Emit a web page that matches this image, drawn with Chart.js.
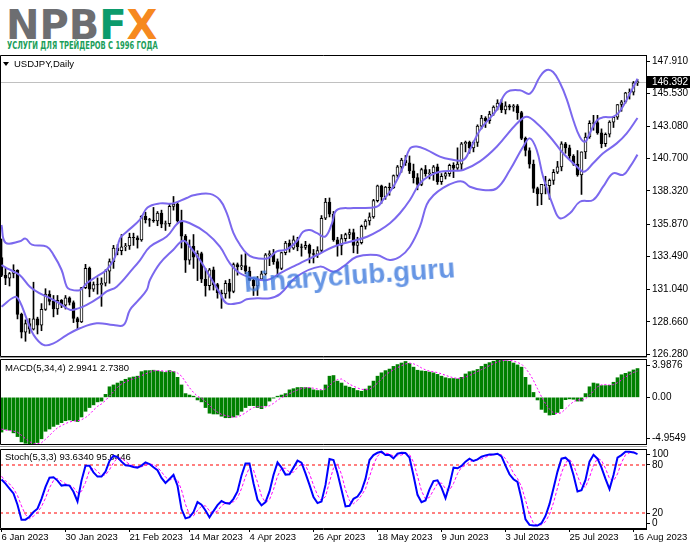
<!DOCTYPE html>
<html>
<head>
<meta charset="utf-8">
<script src="https://cdn.jsdelivr.net/npm/chart.js@4.4.0/dist/chart.umd.min.js"></script>
<style>
  html, body { margin: 0; padding: 0; background: #fff; }
  #page { position: relative; width: 691px; height: 549px; overflow: hidden; background: #fff; }
  .pane { position: absolute; left: 0; width: 691px; }
  .sep { position: absolute; left: 0; width: 647px; height: 1px; background: #9a9a9a; }
  #logo { position: absolute; left: 6px; top: 5px; font: bold 40px/40px "DejaVu Sans", sans-serif; white-space: nowrap; }
  #tagline { position: absolute; left: 7px; top: 40px; font: bold 11px/11px "DejaVu Sans", sans-serif; color: #1b9e5a; white-space: nowrap; transform-origin: left top; }
  #wm { position: absolute; left: 245px; top: 269px; font: bold 28px/28px "Liberation Sans", sans-serif; color: rgba(60, 120, 220, 0.78); white-space: nowrap; transform: rotate(-4deg); transform-origin: left bottom; pointer-events: none; }
</style>
</head>
<body>
<div id="page">
  <div id="logo"><span style="color:#6d6e71">NPB</span><span style="color:#0c9b6c">F</span><span style="color:#f6891f">X</span></div>
  <div id="tagline">УСЛУГИ ДЛЯ ТРЕЙДЕРОВ С 1996 ГОДА</div>
  <div class="pane" style="top:55px;height:302px"><canvas id="mainChart"></canvas></div>
  <div class="sep" style="top:357px"></div>
  <div class="pane" style="top:359px;height:86px"><canvas id="macdChart"></canvas></div>
  <div class="sep" style="top:446px"></div>
  <div class="pane" style="top:449px;height:100px"><canvas id="stochChart"></canvas></div>
  <div id="wm">binaryclub.guru</div>
</div>
<script>
// USDJPY daily, 6 Jan 2023 (bar 0) .. 17 Aug 2023 (bar 159)
const symbolTitle = "USDJPY,Daily";

const dateTickIdx = [0, 16, 32, 47, 62, 78, 94, 110, 126, 142, 158];
const dateTickText = ["6 Jan 2023", "30 Jan 2023", "21 Feb 2023", "14 Mar 2023", "4 Apr 2023",
  "26 Apr 2023", "18 May 2023", "9 Jun 2023", "3 Jul 2023", "25 Jul 2023", "16 Aug 2023"];
const priceTicks = [147.910, 145.530, 143.080, 140.700, 138.320, 135.870, 133.490, 131.040, 128.660, 126.280];

const opens = [133.40,132.08,131.88,132.22,132.46,129.20,127.90,128.52,128.12,128.88,
  128.40,129.58,130.70,130.16,129.60,130.24,129.88,130.42,130.08,128.90,
  128.64,131.18,132.60,131.06,131.40,131.38,131.50,132.40,133.10,134.10,
  133.90,134.20,134.26,134.90,134.86,134.70,136.44,136.20,136.16,136.10,
  136.68,135.86,135.90,137.18,137.34,136.12,134.98,133.20,134.22,133.42,
  133.70,131.80,131.32,132.50,131.40,130.80,130.72,131.50,130.90,132.88,
  132.70,132.80,132.40,131.72,131.30,131.80,132.20,133.60,133.70,133.10,
  132.60,133.76,134.46,134.10,134.70,134.20,134.14,134.30,133.70,133.64,
  133.92,136.30,137.50,136.60,134.70,134.30,134.80,135.10,135.24,134.30,
  134.50,135.70,136.10,136.40,137.60,138.70,137.90,138.60,138.56,139.46,
  140.10,140.60,140.40,139.80,139.30,138.80,139.90,139.60,139.66,140.10,
  139.00,139.40,139.60,140.20,140.00,140.30,141.80,141.90,141.50,141.90,
  143.10,143.70,143.50,144.00,144.50,144.80,144.30,144.60,144.50,144.60,
  144.10,142.20,141.30,140.30,138.50,138.10,138.80,138.70,139.10,139.70,
  140.10,141.80,141.50,140.90,140.30,139.50,141.20,142.30,143.30,143.36,
  142.60,141.80,142.50,143.40,143.76,144.70,144.90,145.56,145.60,146.30];
const highs = [134.77,132.67,132.30,132.87,132.50,129.30,128.80,128.90,131.58,129.00,
  130.00,131.10,130.95,130.60,130.60,130.30,130.60,130.50,130.20,129.00,
  131.20,132.90,132.70,131.60,131.90,131.90,132.50,133.30,134.30,134.35,
  135.10,134.45,135.20,135.20,135.00,136.50,136.75,136.30,137.10,136.80,
  136.90,136.10,137.40,137.91,137.50,136.90,135.10,134.70,135.10,133.90,
  133.80,132.60,132.60,132.70,131.50,131.00,131.70,131.80,133.00,133.00,
  133.60,133.70,132.70,131.90,132.00,132.40,133.70,133.90,134.00,133.30,
  133.80,134.60,134.70,135.00,134.90,134.40,134.60,134.40,134.00,134.20,
  136.50,137.77,137.80,136.80,134.90,135.10,135.20,135.50,135.50,134.90,
  135.80,136.20,136.70,137.70,138.75,138.75,138.65,138.90,139.50,140.20,
  140.73,140.93,140.90,140.30,139.60,140.00,140.20,139.90,140.20,140.30,
  139.60,139.70,140.30,140.40,141.50,141.90,142.00,142.00,142.00,143.20,
  143.90,143.80,144.20,144.60,145.05,145.07,144.90,144.70,144.70,144.70,
  144.20,142.30,141.50,140.60,138.60,138.80,139.40,139.20,139.90,140.50,
  141.95,141.90,141.70,141.00,141.30,141.20,142.60,143.50,143.90,143.90,
  142.90,142.60,143.50,143.80,144.70,145.00,145.60,145.85,146.40,146.56];
const lows = [131.99,131.40,131.30,131.90,128.87,127.46,127.22,127.80,128.05,127.76,
  128.00,129.50,129.90,129.02,129.20,129.70,129.60,129.90,128.60,128.08,
  128.60,131.10,130.50,130.90,130.70,129.80,131.30,131.50,132.60,133.60,
  133.60,133.90,134.00,134.30,134.10,134.60,135.95,135.70,136.00,135.75,
  135.60,135.40,135.70,136.90,136.00,134.10,132.30,132.90,132.60,131.70,
  131.55,130.55,131.00,131.00,130.40,129.65,130.40,130.40,130.80,132.10,
  132.50,132.20,131.70,130.60,130.60,131.70,132.10,132.80,132.90,132.00,
  132.50,133.60,133.80,134.00,133.90,133.50,134.00,133.00,133.00,133.40,
  133.80,136.20,136.40,134.60,133.50,133.60,134.60,134.80,133.75,133.70,
  134.40,135.50,135.80,136.30,137.50,137.40,137.70,138.00,138.50,139.30,
  139.70,140.20,139.60,138.90,138.40,138.70,139.40,139.20,139.10,138.80,
  138.80,139.20,139.40,139.30,139.90,139.90,141.20,141.10,141.20,141.60,
  142.90,143.00,143.30,143.90,144.30,144.10,144.00,144.30,144.20,143.60,
  142.10,140.90,140.00,138.20,137.24,137.30,138.10,137.70,138.80,139.60,
  139.80,141.10,140.70,140.20,139.40,138.06,140.70,142.20,142.80,142.50,
  141.50,141.60,142.30,143.00,143.60,144.20,144.80,145.10,145.40,146.10];
const closes = [132.08,131.88,132.22,132.46,129.20,127.90,128.52,128.12,128.88,128.40,
  129.58,130.70,130.16,129.60,130.24,129.88,130.42,130.08,128.90,128.64,
  131.18,132.60,131.06,131.40,131.38,131.50,132.40,133.10,134.10,133.90,
  134.20,134.26,134.90,134.86,134.70,136.44,136.20,136.16,136.10,136.68,
  135.86,135.90,137.18,137.34,136.12,134.98,133.20,134.22,133.42,133.70,
  131.80,131.32,132.50,131.40,130.80,130.72,131.50,130.90,132.88,132.70,
  132.80,132.40,131.72,131.30,131.80,132.20,133.60,133.70,133.10,132.60,
  133.76,134.46,134.10,134.70,134.20,134.14,134.30,133.70,133.64,133.92,
  136.30,137.50,136.60,134.70,134.30,134.80,135.10,135.24,134.30,134.50,
  135.70,136.10,136.40,137.60,138.70,137.90,138.60,138.56,139.46,140.10,
  140.60,140.40,139.80,139.30,138.80,139.90,139.60,139.66,140.10,139.00,
  139.40,139.60,140.20,140.00,140.30,141.80,141.90,141.50,141.90,143.10,
  143.70,143.50,144.00,144.50,144.80,144.30,144.60,144.50,144.60,144.10,
  142.20,141.30,140.30,138.50,138.10,138.80,138.70,139.10,139.70,140.10,
  141.80,141.50,140.90,140.30,139.50,141.20,142.30,143.30,143.36,142.60,
  141.80,142.50,143.40,143.76,144.70,144.90,145.56,145.60,146.30,146.392];

// Bollinger bands: [bar index, price]
const bbUpper = [[0,135.8],[1,134.5],[4.6,134.6],[6,134.8],[7.6,134.35],[11.3,134.2],[13,133.6],[15,132.5],
  [16.3,131.25],[17.1,131.05],[19.6,131.0],[21.3,131.5],[23.8,132.0],[26.3,132.5],[28.4,133.45],[29.6,134.8],
  [31.3,135.3],[34.6,136.2],[36.5,137.1],[39.6,137.4],[42.9,137.4],[46.3,137.8],[48,138.0],[52.1,138.1],
  [54.6,137.65],[56.3,136.7],[58,135.2],[59.6,134.35],[61.3,133.7],[63,133.4],[66.6,133.35],[68.8,133.85],
  [71.3,134.0],[73.8,134.6],[75.4,135.3],[77.1,135.43],[78.9,135.2],[80.9,134.95],[82.6,135.9],[83.8,136.9],
  [88,137.05],[93.8,137.15],[95.4,137.65],[98,138.65],[100.4,140.1],[102.1,141.45],[103.8,141.6],[106.3,141.35],
  [109.6,140.85],[112.1,140.65],[115.4,140.6],[117.1,141.35],[119.6,142.8],[123.8,144.3],[126.3,145.6],
  [129.6,145.75],[132.1,145.5],[134.6,146.75],[136.3,147.25],[137.9,147.1],[139.6,146.3],[141.3,145.1],
  [143,143.5],[144.6,142.3],[145.9,141.95],[147.1,142.6],[148.9,143.55],[150.4,143.75],[153,143.8],
  [154.6,144.2],[157.1,145.5],[159,146.6]];
const bbMiddle = [[0,132.85],[2.1,132.5],[4.6,132.1],[7.1,131.25],[9.6,130.75],[12.1,130.4],[14.6,130.0],
  [17.1,129.55],[19.2,129.65],[21.3,129.9],[24.6,130.5],[26.3,130.9],[28.8,131.25],[32.9,132.6],[34.6,133.2],
  [37.1,134.2],[41.3,134.95],[44.6,136.05],[47.1,135.93],[51.3,135.2],[54.6,134.2],[57.1,132.97],[59.6,132.24],
  [63,131.87],[66.4,131.74],[69.6,132.24],[72.9,132.73],[74.6,132.97],[77.1,133.34],[78.9,133.59],[83,134.2],
  [87.1,134.57],[91.4,134.94],[94.6,135.43],[97.1,135.93],[99.6,136.67],[102.1,137.65],[104.6,138.88],
  [107.1,139.45],[109.6,139.74],[112.9,139.81],[115.4,139.86],[119.6,140.5],[123.8,141.58],[128.9,143.31],
  [131.3,143.8],[133.8,143.31],[137.1,142.32],[140.4,141.1],[143.9,140.11],[145.6,139.74],[147.9,140.36],
  [150.4,141.1],[153.8,141.83],[156.3,142.57],[159,143.7]];
const bbLower = [[0,129.77],[3.4,130.5],[4.6,130.14],[6.4,128.8],[8,127.7],[10.5,126.95],[13,127.07],
  [16.3,127.68],[19.6,128.18],[23.8,128.55],[28,128.42],[30.5,128.42],[32.1,129.53],[33.9,130.14],
  [36.3,131.0],[37.1,131.74],[39.6,132.97],[42.9,133.96],[45.4,134.64],[47.1,134.2],[49.6,133.22],
  [52.1,132.0],[54.6,130.76],[56.3,130.02],[59.6,130.07],[61.3,130.32],[63.9,130.39],[67.1,130.4],
  [69.6,130.7],[73.8,131.99],[79.6,132.73],[83,132.36],[85.4,132.73],[88.8,133.46],[93.8,133.59],
  [97.1,133.22],[99.6,133.46],[102.1,134.2],[104.6,135.68],[106.3,137.3],[108,138.0],[110.4,138.55],
  [113.3,138.95],[115.4,139.0],[117.1,138.63],[120.4,138.39],[123.8,138.51],[127.1,139.86],[130.4,141.58],
  [132.1,142.2],[133.8,141.34],[135.4,139.37],[138,137.15],[139.6,136.3],[142.1,136.67],[144.6,137.52],
  [147.9,137.65],[150.4,138.63],[152.9,139.62],[155.4,139.5],[157.1,140.1],[159,141.0]];

// MACD(5,34,4)
const macdMax = 3.9876, macdMin = -4.9549;
const macdHist = [-3.61,-3.33,-3.41,-3.69,-4.08,-4.63,-4.78,-4.9549,-4.9,-4.7,
  -4.31,-3.53,-3.29,-3.02,-2.82,-2.63,-2.43,-2.35,-2.43,-2.51,
  -2.04,-1.45,-1.06,-0.78,-0.47,-0.39,0.31,1.1,1.29,1.49,
  1.69,1.88,2.04,2.12,2.2,2.67,2.78,2.78,2.82,2.75,
  2.67,2.59,2.78,2.67,2.08,1.29,0.39,0.24,0.12,-0.27,
  -0.47,-1.06,-1.65,-1.73,-1.73,-1.96,-2.12,-2.12,-2.04,-1.84,
  -1.45,-1.06,-0.86,-0.86,-1.06,-1.18,-0.86,-0.39,-0.08,0.12,
  0.24,0.39,0.78,0.9,1.02,1.02,1.02,0.98,0.78,0.71,
  0.71,1.29,2.2,2.27,1.69,1.49,1.18,1.06,0.94,0.71,
  0.63,0.86,1.18,1.69,2.2,2.55,2.78,2.94,3.22,3.41,
  3.57,3.73,3.53,3.14,2.82,2.75,2.71,2.63,2.55,2.39,
  2.2,2.04,1.96,1.96,1.92,2.08,2.43,2.67,2.75,2.9,
  3.22,3.45,3.61,3.76,3.88,3.9876,3.8,3.76,3.57,3.37,
  3.14,2.08,1.29,0.51,-0.27,-1.25,-1.57,-1.84,-1.8,-1.57,
  -1.18,-0.24,-0.16,-0.2,-0.39,-0.39,0.39,1.1,1.49,1.41,
  1.22,1.22,1.25,1.57,2.04,2.35,2.5,2.65,2.85,2.9941];
const macdSignal = [-3.3,-3.4,-3.45,-3.51,-3.63,-3.95,-4.3,-4.61,-4.82,-4.83,
  -4.72,-4.36,-3.96,-3.54,-3.17,-2.94,-2.73,-2.56,-2.46,-2.43,
  -2.33,-2.11,-1.77,-1.33,-0.94,-0.68,-0.33,0.14,0.58,1.05,
  1.39,1.59,1.78,1.93,2.06,2.26,2.44,2.61,2.76,2.78,
  2.76,2.71,2.7,2.68,2.53,2.21,1.61,1.0,0.51,0.12,
  -0.1,-0.42,-0.86,-1.23,-1.54,-1.77,-1.89,-1.98,-2.06,-2.03,
  -1.86,-1.6,-1.3,-1.06,-0.96,-0.99,-0.99,-0.87,-0.63,-0.3,
  -0.03,0.17,0.38,0.58,0.77,0.91,0.99,1.01,0.95,0.87,
  0.8,0.87,1.23,1.62,1.86,1.91,1.66,1.36,1.17,0.97,
  0.84,0.79,0.85,1.09,1.48,1.91,2.31,2.62,2.87,3.09,
  3.29,3.48,3.56,3.49,3.31,3.06,2.86,2.73,2.66,2.57,
  2.44,2.3,2.15,2.04,1.97,1.98,2.1,2.28,2.48,2.69,
  2.89,3.08,3.3,3.51,3.68,3.81,3.86,3.86,3.78,3.63,
  3.46,3.04,2.47,1.76,0.9,0.07,-0.65,-1.23,-1.62,-1.7,
  -1.6,-1.2,-0.79,-0.45,-0.25,-0.29,-0.15,0.23,0.65,1.1,
  1.31,1.34,1.28,1.32,1.52,1.8,2.11,2.39,2.59,2.738];

// Stochastic(5,3,3)
const stochLevels = [80, 20];
const stochAxisText = ["100", "80", "20", "0"];
const stochMain = [61.8,56.8,50.6,44.4,30.3,11.7,11.7,15.4,21.2,25.4,
  37.7,52.6,64.2,64.7,60.5,54.3,55.1,54.3,46.5,34.4,
  60.5,79.2,79.2,70.8,65.5,65.5,71.7,85,91.6,90,
  84.2,79.6,79,77.5,76.7,79.2,83.3,81.2,77.1,73.4,
  63.8,57.6,62.6,67.6,54.3,24.9,13.3,14.9,21.2,33.6,
  30.3,23.2,14.5,22.4,29.9,34.9,32.4,31.6,37.7,47,
  66.8,82,82,57.2,36.5,29.5,33.6,47,67.6,83.3,
  76.7,68,68.4,76.7,85.4,82.9,69.6,55.1,39.8,32.4,
  34.4,55.1,87.4,86.2,69.6,49,28.2,29,37.7,40.6,
  47.7,62.6,86.2,92.4,95.3,96.6,92.4,92.4,88.2,94.1,
  95.3,94.9,89.1,66.8,42.7,33.6,35.7,49.6,59.9,60.8,
  51.7,38.6,55.1,76.7,75.9,78.8,84.2,87.9,85,87,
  90.3,92,93.2,93.2,94.1,90.7,79.2,68.4,62.2,58.8,
  37.7,12,5.1,4.3,4.3,7.2,16.3,31.1,51,71.7,
  87.9,89.1,84.2,67.6,47,48.6,61.4,84.2,92.8,87.9,
  76.7,62.6,49.9,67.6,89.1,92.4,96.6,96.6,95.7,93.634];
const stochSignal = [66,60,56.4,50.6,41.8,28.8,17.9,12.9,16.1,20.7,
  28.1,38.6,51.5,60.5,63.1,59.8,56.6,54.6,52,45.1,
  47.1,58,73,76.4,71.8,67.3,67.6,74.1,82.8,88.9,
  88.6,84.6,80.9,78.7,77.7,77.8,79.7,81.2,80.5,77.2,
  71.4,64.9,61.3,62.6,61.5,48.9,30.8,17.7,16.5,23.2,
  28.4,29,22.7,20,22.3,29.1,32.4,33,33.9,38.8,
  50.5,65.3,76.9,73.7,58.6,41.1,33.2,36.7,49.4,66,
  75.9,76,71,71,76.8,81.7,79.3,69.2,54.8,42.4,
  35.5,40.6,59,76.2,81.1,68.3,48.9,35.4,31.6,35.8,
  42,50.3,65.5,80.4,91.3,94.8,94.8,93.8,91,91.6,
  92.5,94.8,93.1,83.6,66.2,47.7,37.3,39.6,48.4,56.8,
  57.5,50.4,48.5,56.8,69.2,77.1,79.6,83.6,85.7,86.6,
  87.4,89.8,91.8,92.8,93.5,92.7,88,79.4,69.9,63.1,
  52.9,36.2,18.3,7.1,4.6,5.3,9.3,18.2,32.8,51.3,
  70.2,82.9,87.1,80.3,66.3,54.4,52.3,64.7,79.5,88.3,
  85.8,75.7,63.1,60,68.9,83,92.7,95.2,96.3,95.0446];

const FONT = '"Liberation Sans", Arial, sans-serif';
const FONT_SIZE = 9.5;
const AXIS_FONT = { family: FONT, size: 10 };
const X_MIN = -0.375, X_MAX = 161.125;
const AXIS_W = 45;
const MACD_H = 86, STOCH_H = 80;
const bandColor = "#7b68ee";
const last = closes.length - 1;

Chart.defaults.font.family = FONT;
Chart.defaults.font.size = FONT_SIZE;
Chart.defaults.color = "#000";

// frame + title text of each sub window
const panePlugin = {
  id: "pane",
  beforeDatasetsDraw(chart, args, opts) {
    const { ctx } = chart;
    ctx.save();
    ctx.font = FONT_SIZE + "px " + FONT;
    ctx.fillStyle = "#000";
    ctx.textBaseline = "middle";
    ctx.textAlign = "left";
    ctx.fillText(opts.title, opts.tx, opts.ty);
    if (opts.arrow) {
      ctx.beginPath();
      ctx.moveTo(3, opts.ty - 2);
      ctx.lineTo(9, opts.ty - 2);
      ctx.lineTo(6, opts.ty + 2);
      ctx.closePath();
      ctx.fill();
    }
    ctx.restore();
  },
  afterDraw(chart) {
    const { ctx, chartArea: a } = chart;
    ctx.save();
    ctx.strokeStyle = "#000";
    ctx.lineWidth = 1;
    ctx.beginPath();
    ctx.moveTo(a.right, a.top + 0.5);
    ctx.lineTo(a.left + 0.5, a.top + 0.5);
    ctx.lineTo(a.left + 0.5, a.bottom - 0.5);
    ctx.lineTo(a.right, a.bottom - 0.5);
    ctx.stroke();
    ctx.restore();
  },
};

const priceLinePlugin = {
  id: "priceLine",
  beforeDatasetsDraw(chart) {
    const { ctx, chartArea: a, scales: { y } } = chart;
    const py = Math.round(y.getPixelForValue(closes[last])) + 0.5;
    ctx.save();
    ctx.strokeStyle = "#c0c0c0";
    ctx.lineWidth = 1;
    ctx.beginPath();
    ctx.moveTo(a.left, py);
    ctx.lineTo(a.right, py);
    ctx.stroke();
    ctx.restore();
  },
  afterDraw(chart) {
    const { ctx, chartArea: a, scales: { y } } = chart;
    const py = Math.round(y.getPixelForValue(closes[last]));
    ctx.save();
    ctx.fillStyle = "#000";
    ctx.fillRect(a.right + 1, py - 6, 43, 12);
    ctx.fillStyle = "#fff";
    ctx.font = AXIS_FONT.size + "px " + FONT;
    ctx.textBaseline = "middle";
    ctx.fillText(closes[last].toFixed(3), a.right + 6, py + 0.5);
    ctx.restore();
  },
};

function xAxis(show) {
  const ax = {
    type: "linear", min: X_MIN, max: X_MAX, offset: false, display: show,
    grid: { display: show, drawOnChartArea: false, tickLength: 3, color: "#000", offset: false },
    border: { display: show, color: "#000" },
    afterBuildTicks: (s) => { s.ticks = dateTickIdx.map((v) => ({ value: v })); },
    ticks: {
      autoSkip: false, maxRotation: 0, minRotation: 0, align: "start", padding: 0,
      callback: (v, i) => dateTickText[i],
    },
  };
  if (show) ax.afterFit = (s) => { s.height = 20; s.paddingLeft = 0; s.paddingRight = 0; };
  return ax;
}

function yAxis(extra) {
  return Object.assign({
    position: "right",
    grid: { drawOnChartArea: false, tickLength: 4, color: "#000" },
    border: { color: "#000" },
    afterFit: (s) => { s.width = AXIS_W; s.paddingTop = 0; s.paddingBottom = 0; },
  }, extra);
}

const baseOptions = {
  responsive: true,
  maintainAspectRatio: false,
  animation: false,
  devicePixelRatio: 1,
  events: [],
  layout: { padding: 0 },
};

// ---------- price window ----------
new Chart(document.getElementById("mainChart"), {
  type: "bar",
  data: {
    datasets: [
      { type: "line", data: bbUpper.map(([i, v]) => ({ x: i, y: v })), borderColor: bandColor, borderWidth: 2, pointRadius: 0, tension: 0.4, order: 0 },
      { type: "line", data: bbMiddle.map(([i, v]) => ({ x: i, y: v })), borderColor: bandColor, borderWidth: 2, pointRadius: 0, tension: 0.4, order: 0 },
      { type: "line", data: bbLower.map(([i, v]) => ({ x: i, y: v })), borderColor: bandColor, borderWidth: 2, pointRadius: 0, tension: 0.4, order: 0 },
      {
        data: closes.map((c, i) => ({ x: i, y: [opens[i], c] })),
        backgroundColor: closes.map((c, i) => (c >= opens[i] ? "#ffffff" : "#000000")),
        borderColor: "#000", borderWidth: 1, borderSkipped: false, barThickness: 3, grouped: false, order: 1,
      },
      {
        data: closes.map((c, i) => ({ x: i, y: [lows[i], highs[i]] })),
        backgroundColor: "#000", borderWidth: 0, barThickness: 1, grouped: false, order: 2,
      },
    ],
  },
  plugins: [panePlugin, priceLinePlugin],
  options: Object.assign({}, baseOptions, {
    plugins: { legend: { display: false }, tooltip: { enabled: false },
      pane: { title: symbolTitle, tx: 14, ty: 9, arrow: true } },
    scales: {
      x: xAxis(false),
      y: yAxis({
        min: 126.059, max: 148.353,
        afterBuildTicks: (s) => { s.ticks = priceTicks.map((v) => ({ value: v })); },
        ticks: { autoSkip: false, padding: 2, font: AXIS_FONT, callback: (v) => v.toFixed(3) },
      }),
    },
  }),
});

// ---------- MACD window ----------
const macdInset = 6.5 * (macdMax - macdMin) / MACD_H;
new Chart(document.getElementById("macdChart"), {
  type: "bar",
  data: {
    datasets: [
      { type: "line", data: macdSignal.map((v, i) => ({ x: i, y: v })), borderColor: "#ff00ff", borderWidth: 1, borderDash: [2, 2], pointRadius: 0, tension: 0, order: 0 },
      { data: macdHist.map((v, i) => ({ x: i, y: v })), backgroundColor: "#008000", borderWidth: 0, barThickness: 3, grouped: false, order: 1 },
    ],
  },
  plugins: [panePlugin],
  options: Object.assign({}, baseOptions, {
    plugins: { legend: { display: false }, tooltip: { enabled: false },
      pane: { title: "MACD(5,34,4) " + macdHist[last].toFixed(4) + " " + macdSignal[last].toFixed(4), tx: 5, ty: 9 } },
    scales: {
      x: xAxis(false),
      y: yAxis({
        min: macdMin, max: macdMax,
        afterBuildTicks: (s) => { s.ticks = [macdMax - macdInset, 0, macdMin + macdInset].map((v) => ({ value: v })); },
        ticks: { autoSkip: false, padding: 2, font: AXIS_FONT, callback: (v, i) => [macdMax.toFixed(4), "0.00", macdMin.toFixed(4)][i] },
      }),
    },
  }),
});

// ---------- Stochastic window ----------
const stochInset = 5.5 * 100 / STOCH_H;
new Chart(document.getElementById("stochChart"), {
  type: "line",
  data: {
    datasets: [
      { data: stochMain.map((v, i) => ({ x: i, y: v })), borderColor: "#0000ff", borderWidth: 2, pointRadius: 0, tension: 0, order: 0 },
      { data: stochSignal.map((v, i) => ({ x: i, y: v })), borderColor: "#ff00ff", borderWidth: 1, borderDash: [3, 2], pointRadius: 0, tension: 0, order: 1 },
      ...stochLevels.map((lv) => ({
        data: [{ x: X_MIN, y: lv }, { x: X_MAX, y: lv }],
        borderColor: "#ff0000", borderWidth: 1, borderDash: [3, 3], pointRadius: 0, order: 2,
      })),
    ],
  },
  plugins: [panePlugin],
  options: Object.assign({}, baseOptions, {
    plugins: { legend: { display: false }, tooltip: { enabled: false },
      pane: { title: "Stoch(5,3,3) " + stochMain[last].toFixed(4) + " " + stochSignal[last].toFixed(4), tx: 5, ty: 8 } },
    scales: {
      x: xAxis(true),
      y: yAxis({
        min: 0, max: 100,
        afterBuildTicks: (s) => { s.ticks = [100 - stochInset, 80, 20, stochInset].map((v) => ({ value: v })); },
        ticks: { autoSkip: false, padding: 2, font: AXIS_FONT, callback: (v, i) => stochAxisText[i] },
      }),
    },
  }),
});

// squeeze the tagline to the logo width
const tag = document.getElementById("tagline");
tag.style.transform = "scaleX(" + (151 / tag.scrollWidth) + ")";
</script>
</body>
</html>
